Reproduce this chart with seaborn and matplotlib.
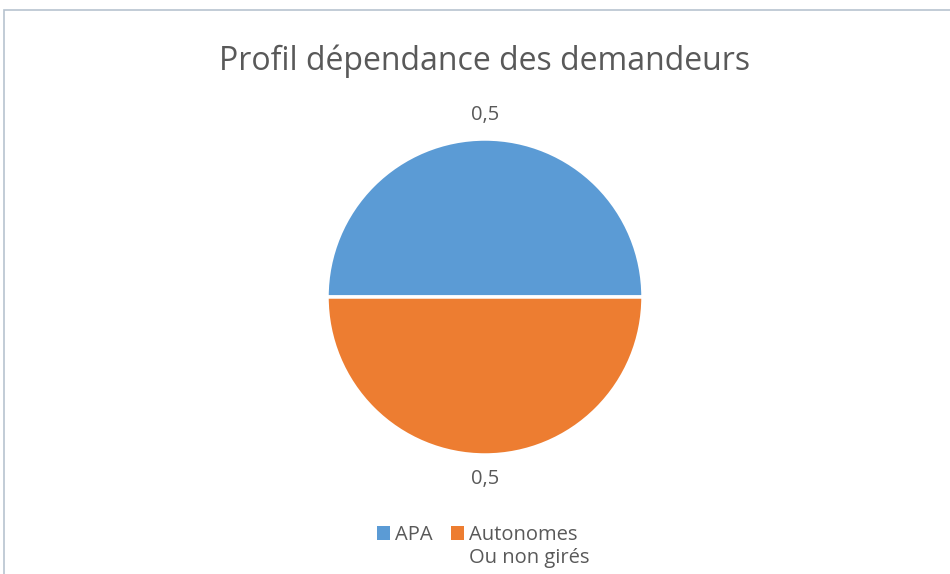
import matplotlib
matplotlib.use("Agg")
import matplotlib.pyplot as plt
import seaborn as sns
from matplotlib.patches import Rectangle

# donnees
categories = ["APA", "Autonomes"]
categories_suite = ["", "Ou non girés"]
valeurs = [0.5, 0.5]
couleurs = ["#5B9BD5", "#ED7D31"]
titre = "Profil dépendance des demandeurs"

sns.set_theme(style="white")
plt.rcParams['font.family'] = ['Open Sans', 'DejaVu Sans']
gris = "#595959"

fig = plt.figure(figsize=(9.5, 5.74), dpi=100)

# cadre du graphique
fig.patches.append(Rectangle((4 / 950, -0.1), 1.2, 1.1 - 10 / 574,
                             transform=fig.transFigure, fill=False,
                             edgecolor="#b7c3cf", linewidth=1.2))

# centre du camembert a (485, 297) px, rayon 158 px
r = 158
ax = fig.add_axes([(485 - r) / 950, (574 - 297 - r) / 574, 2 * r / 950, 2 * r / 574])
etiquettes = [f"{v:.1f}".replace(".", ",") for v in valeurs]
wedges, textes = ax.pie(valeurs, colors=couleurs, startangle=0, counterclock=True,
                        labels=etiquettes, labeldistance=1.15,
                        wedgeprops=dict(edgecolor="white", linewidth=2.5),
                        textprops=dict(color=gris, fontsize=14.5))
for t in textes:
    t.set_horizontalalignment("center")
ax.set_xlim(-1, 1)
ax.set_ylim(-1, 1)
ax.set_aspect("auto")
ax.axis("off")

fig.text(485 / 950, 1 - 61 / 574, titre, ha="center", va="center",
         fontsize=23, color=gris)

leg = fig.legend(wedges, categories, loc="center", bbox_to_anchor=(477 / 950, 1 - 535 / 574),
                 ncol=2, frameon=False, fontsize=14.5, handlelength=0.65, handleheight=0.65,
                 handletextpad=0.25, columnspacing=0.9, labelcolor=gris)
for h in leg.legend_handles:
    h.set_linewidth(0)

fig.canvas.draw()
inv = fig.transFigure.inverted()
for txt, suite in zip(leg.get_texts(), categories_suite):
    if suite:
        bb = txt.get_window_extent()
        x0, y0 = inv.transform((bb.x0, bb.y0 - 3))
        fig.text(x0, y0, suite, ha="left", va="top", fontsize=14.5, color=gris)

fig.savefig("out.png", dpi=100)
